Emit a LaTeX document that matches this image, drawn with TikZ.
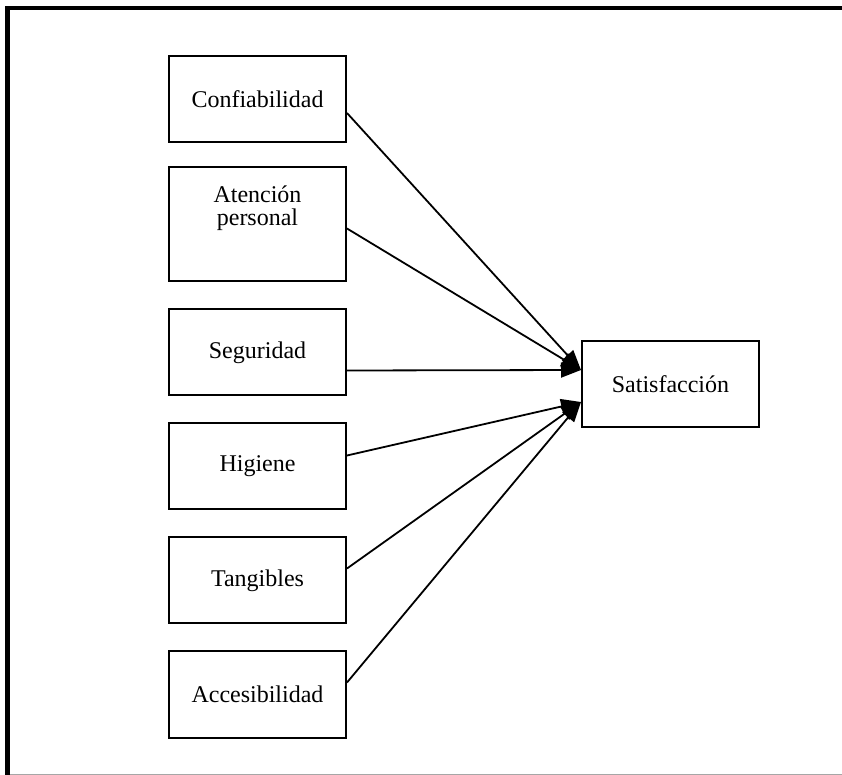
\documentclass[tikz,border=0pt]{standalone}
\usepackage{fontspec}
\setmainfont{Liberation Serif}
\usetikzlibrary{%
arrows.meta,
positioning
}

\begin{document}
\begin{tikzpicture}[x=0.5pt,y=-0.5pt,
    factor/.style={draw,line width=1pt,minimum width=88.5pt,minimum height=43pt,
        inner sep=0pt,align=center,font=\fontsize{12}{11.5}\selectfont},
    link/.style={line width=0.9pt,-{Triangle[length=10pt,width=7.5pt]}}]
\useasboundingbox (0,0) rectangle (842,775);
    % outer frame (no right side)
    \draw[gray!70,line width=1pt] (8,774.5) -- (842,774.5);
    \draw[line width=2.4pt] (842,8) -- (7.5,8) -- (7.5,775);

    % the six dimensions
    \node[factor] (conf) at (257.5,99.5) {Confiabilidad};
    \node[factor,minimum height=57pt,below=11.5pt of conf] (aten) {Atención\\personal\\[7pt]\mbox{}};
    \node[factor,below=13pt of aten] (segu) {Seguridad};
    \node[factor,below=13pt of segu] (higi) {Higiene};
    \node[factor,below=13pt of higi] (tang) {Tangibles};
    \node[factor,below=13pt of tang] (acce) {Accesibilidad};

    \node[factor] (sat) at (670.5,384) {Satisfacción};

    % where the arrows meet
    \coordinate (inUp) at ([yshift=7pt]sat.west);
    \coordinate (inLow) at ([yshift=-9pt]sat.west);

    \foreach \src/\dy in {conf/-6.75pt,aten/-2pt,segu/-9pt} {
        \draw[link] ([yshift=\dy]\src.east) -- (inUp);
    }
    \foreach \src/\dy in {higi/5.5pt,tang/6pt,acce/6pt} {
        \draw[link] ([yshift=\dy]\src.east) -- (inLow);
    }
\end{tikzpicture}
\end{document}
